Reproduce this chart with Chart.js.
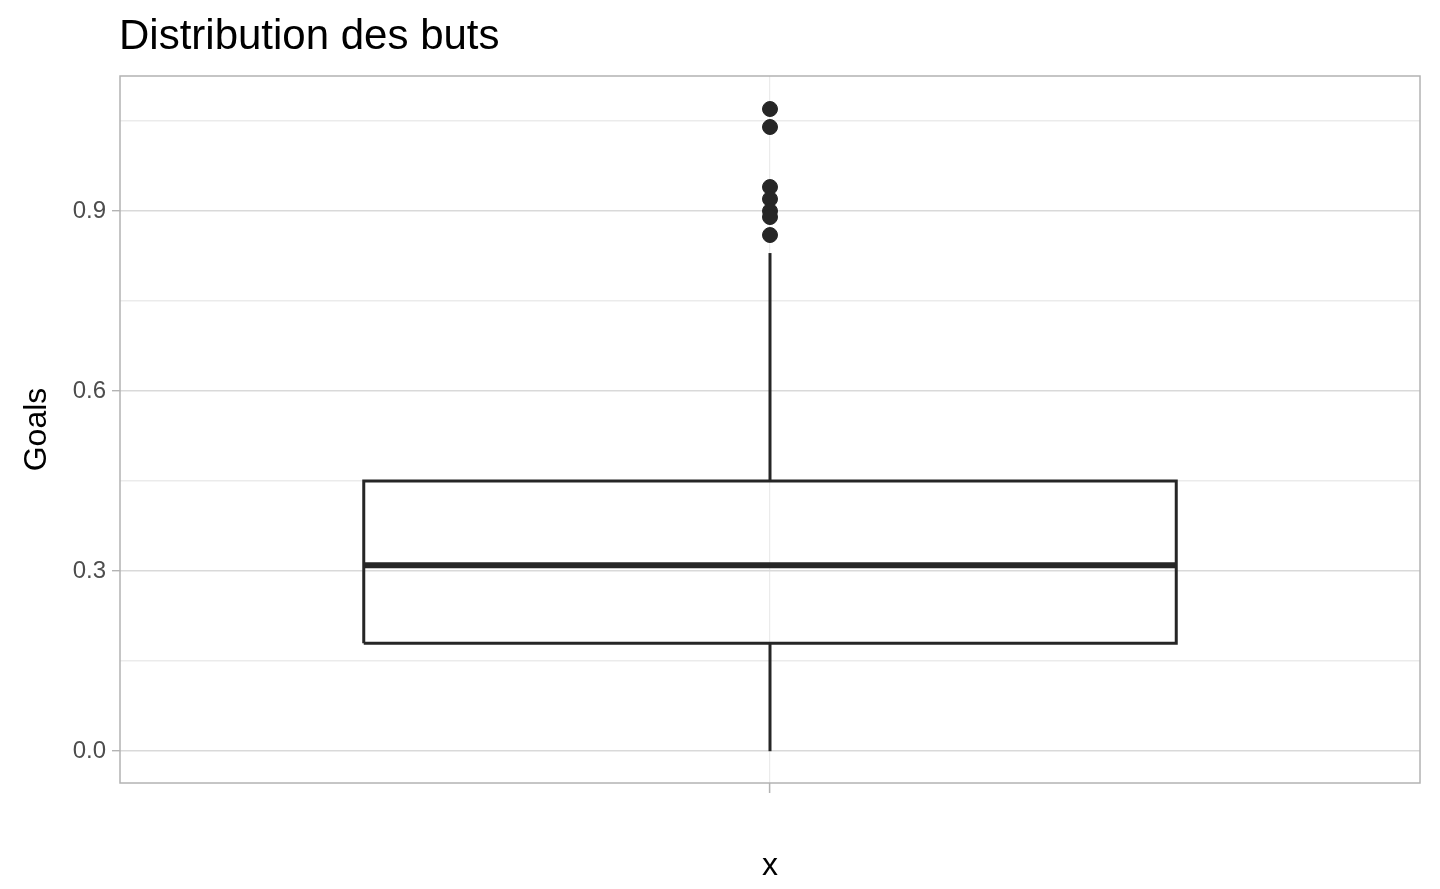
<!DOCTYPE html>
<html>
<head>
<meta charset="utf-8">
<script src="https://cdn.jsdelivr.net/npm/chart.js@4"></script>
<style>
  body { margin: 0; background: #fff; }
  canvas { display: block; }
</style>
</head>
<body>
<canvas id="boxChart" width="1440" height="889"></canvas>
<script>
// ===== DATA =====
const categories = ['x'];
const boxStats = { min: 0.0, q1: 0.18, median: 0.31, q3: 0.45, max: 0.83 };
const outliers = [1.07, 1.04, 0.94, 0.92, 0.90, 0.89, 0.86];
const yTicks = [0.0, 0.3, 0.6, 0.9];

const boxHalf = 0.375;
const ink = '#262626';

// Panel border and title drawn after the chart
const panelPlugin = {
    id: 'panel',
    afterDraw(chart) {
        const { ctx, chartArea: a } = chart;
        ctx.save();
        ctx.strokeStyle = '#b3b3b3';
        ctx.lineWidth = 1.5;
        ctx.strokeRect(a.left, a.top, a.right - a.left, a.bottom - a.top);
        ctx.fillStyle = '#000';
        ctx.font = '42px "Liberation Sans", Arial, sans-serif';
        ctx.textBaseline = 'alphabetic';
        ctx.fillText('Distribution des buts', a.left - 1, 49);
        ctx.restore();
    }
};

const lineStyle = (data, width) => ({
    type: 'line', data, borderColor: ink, borderWidth: width,
    pointRadius: 0, fill: false, tension: 0
});

new Chart(document.getElementById('boxChart'), {
    type: 'scatter',
    data: {
        datasets: [
            lineStyle([{ x: 1, y: boxStats.min }, { x: 1, y: boxStats.q1 }], 3),
            lineStyle([{ x: 1, y: boxStats.q3 }, { x: 1, y: boxStats.max }], 3),
            lineStyle([
                { x: 1 - boxHalf, y: boxStats.q1 }, { x: 1 + boxHalf, y: boxStats.q1 },
                { x: 1 + boxHalf, y: boxStats.q3 }, { x: 1 - boxHalf, y: boxStats.q3 },
                { x: 1 - boxHalf, y: boxStats.q1 }
            ], 3),
            lineStyle([{ x: 1 - boxHalf, y: boxStats.median }, { x: 1 + boxHalf, y: boxStats.median }], 6),
            {
                type: 'scatter',
                data: outliers.map(v => ({ x: 1, y: v })),
                backgroundColor: ink, borderColor: ink, pointRadius: 7.5
            }
        ]
    },
    options: {
        responsive: false,
        animation: false,
        layout: { padding: { top: 76, right: 20, left: 14, bottom: 0 } },
        plugins: { legend: { display: false }, tooltip: { enabled: false } },
        scales: {
            x: {
                type: 'linear', min: 0.4, max: 1.6,
                afterBuildTicks: s => { s.ticks = [{ value: 1 }]; },
                afterFit: s => { s.height = 106; },
                ticks: { callback: () => '', padding: 0 },
                grid: { color: '#ebebeb', lineWidth: 1.2, tickLength: 10, tickColor: '#b3b3b3', tickWidth: 1.5 },
                border: { display: false },
                title: {
                    display: true, text: categories[0], color: '#000',
                    font: { size: 32, family: '"Liberation Sans", Arial, sans-serif' },
                    padding: { top: 28 }
                }
            },
            y: {
                min: -0.053, max: 1.125,
                afterBuildTicks: s => {
                    const t = [];
                    yTicks.forEach(v => t.push({ value: v }, { value: v + 0.15 }));
                    s.ticks = t;
                },
                afterFit: s => { s.width = 106; },
                ticks: {
                    color: '#4d4d4d',
                    font: { size: 24, family: '"Liberation Sans", Arial, sans-serif' },
                    padding: 6,
                    callback: v => yTicks.some(t => Math.abs(t - v) < 1e-6) ? v.toFixed(1) : ''
                },
                grid: {
                    color: c => yTicks.some(t => Math.abs(t - c.tick.value) < 1e-6) ? '#d9d9d9' : '#ebebeb',
                    lineWidth: 1.4, tickLength: 8,
                    tickColor: c => yTicks.some(t => Math.abs(t - c.tick.value) < 1e-6) ? '#b3b3b3' : 'rgba(0,0,0,0)'
                },
                border: { display: false },
                title: {
                    display: true, text: 'Goals', color: '#000',
                    font: { size: 32, family: '"Liberation Sans", Arial, sans-serif' },
                    padding: { bottom: 6 }
                }
            }
        }
    },
    plugins: [panelPlugin]
});
</script>
</body>
</html>
